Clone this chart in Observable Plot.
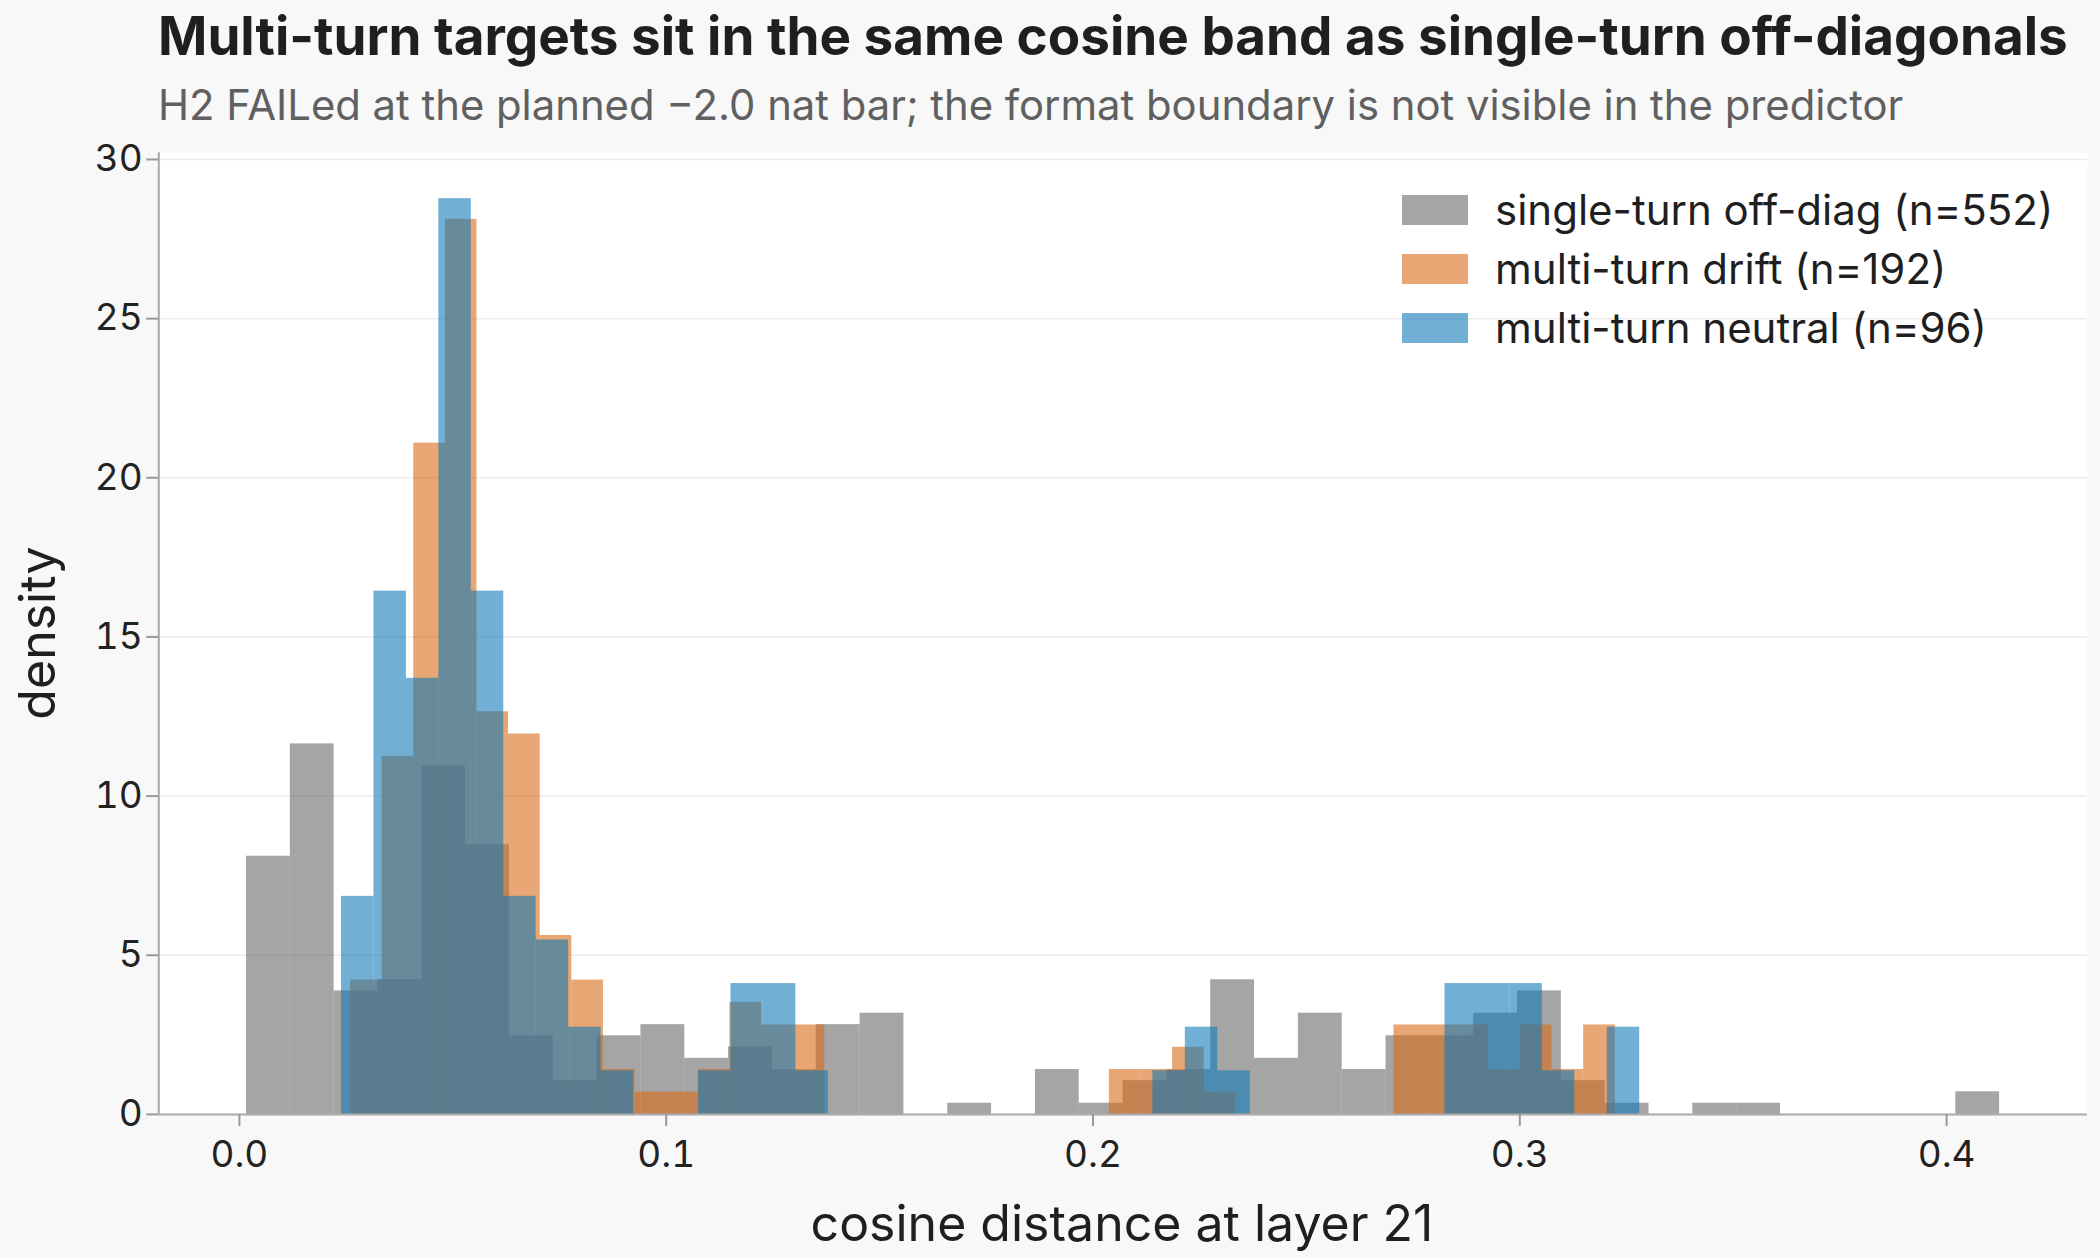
<!DOCTYPE html>
<html>
<head>
<meta charset="utf-8">
<script src="https://cdn.jsdelivr.net/npm/d3@7"></script>
<script src="https://cdn.jsdelivr.net/npm/@observablehq/plot@0.6"></script>
<style>
  body { margin: 0; background: #f8f8f8; font-family: Inter, "Noto Sans", sans-serif; }
  #page { position: relative; width: 2100px; height: 1258px; overflow: hidden; }
  .abs { position: absolute; line-height: 1; white-space: nowrap; }
  #title { left: 158px; top: 10px; font-size: 53px; font-weight: 700; color: #1f1f1f; }
  #subtitle { left: 158px; top: 85px; font-size: 41.8px; color: #606060; }
  #chart { position: absolute; left: 0; top: 120px; }
  #chart svg { overflow: visible; }
  #xlabel { left: 1122px; top: 1198px; font-size: 50px; color: #1f1f1f; transform: translateX(-50%); }
  #ylabel { left: 37px; top: 633px; font-size: 50px; color: #1f1f1f; transform: translate(-50%, -50%) rotate(-90deg); }
  #legend { left: 1402px; top: 195px; }
  .row { display: flex; align-items: center; height: 30px; margin-bottom: 29px; }
  .swatch { width: 66px; height: 30px; opacity: 0.6; }
  .label { margin-left: 27px; font-size: 42px; color: #1f1f1f; line-height: 1; }
</style>
</head>
<body>
<div id="page">
  <div id="title" class="abs">Multi-turn targets sit in the same cosine band as single-turn off-diagonals</div>
  <div id="subtitle" class="abs">H2 FAILed at the planned −2.0 nat bar; the format boundary is not visible in the predictor</div>
  <div id="chart"></div>
  <div id="xlabel" class="abs">cosine distance at layer 21</div>
  <div id="ylabel" class="abs">density</div>
  <div id="legend" class="abs"></div>
</div>
<script>
// Histograms of cosine distance at layer 21: 40 equal-width bins per group,
// each spanning that group's own [min, max], heights as densities.
const binCount = 40;

const singleRange = [0.00166, 0.41242];
const singleDensity = [8.11, 11.64, 3.88, 4.23, 10.94, 8.47, 2.47, 1.06, 2.47, 2.82,
                       1.76, 2.12, 1.41, 2.82, 3.18, 0, 0.35, 0, 1.41, 0.35,
                       1.06, 1.41, 4.23, 1.76, 3.18, 1.41, 2.47, 2.47, 3.18, 3.88,
                       1.06, 0.35, 0, 0.35, 0.35, 0, 0, 0, 0, 0.71];

const driftRange = [0.02603, 0.32237];
const driftDensity = [4.22, 11.25, 21.09, 28.12, 12.65, 11.95, 5.62, 4.22, 1.41, 0.70,
                      0.70, 1.41, 3.52, 2.81, 2.81, 0, 0, 0, 0, 0,
                      0, 0, 0, 0, 1.41, 1.41, 2.11, 0.70, 0, 0,
                      0, 0, 0, 2.81, 2.81, 2.81, 1.41, 2.81, 1.41, 2.81];

const neutralRange = [0.02392, 0.32809];
const neutralDensity = [6.85, 16.44, 13.70, 28.77, 16.44, 6.85, 5.48, 2.74, 1.37, 0,
                        0, 1.37, 4.11, 4.11, 1.37, 0, 0, 0, 0, 0,
                        0, 0, 0, 0, 0, 1.37, 2.74, 1.37, 0, 0,
                        0, 0, 0, 0, 4.11, 4.11, 4.11, 1.37, 0, 2.74];

const seriesNames = ["single-turn off-diag (n=552)", "multi-turn drift (n=192)", "multi-turn neutral (n=96)"];
const seriesColors = ["#696969", "#d96b17", "#127ab7"];

const xTicks = [0, 0.1, 0.2, 0.3, 0.4];
const yTicks = [0, 5, 10, 15, 20, 25, 30];
const xDomain = [-0.01888, 0.43296];
const yDomain = [0, 30.21];

function toBins(range, density, name) {
  const step = (range[1] - range[0]) / binCount;
  return density.map((d, i) => ({
    series: name,
    x1: range[0] + i * step,
    x2: range[0] + (i + 1) * step,
    density: d
  })).filter(b => b.density > 0);
}

const groups = [
  toBins(singleRange, singleDensity, seriesNames[0]),
  toBins(driftRange, driftDensity, seriesNames[1]),
  toBins(neutralRange, neutralDensity, seriesNames[2])
];

const chart = Plot.plot({
  width: 2100,
  height: 1138,
  marginLeft: 158.3,
  marginRight: 13.2,
  marginTop: 32.3,
  marginBottom: 144.1,
  style: { background: "transparent", fontFamily: "Inter, 'Noto Sans', sans-serif", color: "#222" },
  x: { domain: xDomain },
  y: { domain: yDomain },
  marks: [
    Plot.frame({ fill: "white", stroke: null }),
    Plot.gridY(yTicks, { stroke: "#ebebeb", strokeOpacity: 1, strokeWidth: 1.5 }),
    ...groups.map((bins, k) => Plot.rect(bins, {
      x1: "x1", x2: "x2", y1: () => 0, y2: "density",
      fill: seriesColors[k], fillOpacity: 0.6, inset: 0
    })),
    Plot.ruleX([xDomain[0]], { stroke: "#aaaaaa", strokeWidth: 2 }),
    Plot.ruleY([0], { stroke: "#aaaaaa", strokeWidth: 2 }),
    Plot.axisX(xTicks, {
      tickFormat: d => d.toFixed(1), tickSize: 12, tickPadding: 14, fontSize: 37,
      stroke: "#999999", strokeWidth: 2, fill: "#222", label: null
    }),
    Plot.axisY(yTicks, {
      tickSize: 12, tickPadding: 4, fontSize: 37,
      stroke: "#999999", strokeWidth: 2, fill: "#222", label: null
    })
  ]
});
document.getElementById("chart").appendChild(chart);

// Legend
const legend = document.getElementById("legend");
seriesNames.forEach((name, k) => {
  const row = document.createElement("div");
  row.className = "row";
  const sw = document.createElement("div");
  sw.className = "swatch";
  sw.style.background = seriesColors[k];
  const lab = document.createElement("div");
  lab.className = "label";
  lab.textContent = name;
  row.appendChild(sw);
  row.appendChild(lab);
  legend.appendChild(row);
});
</script>
</body>
</html>
